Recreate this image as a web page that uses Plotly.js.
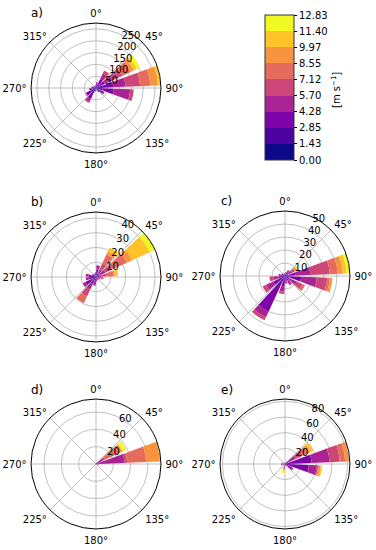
<!DOCTYPE html>
<html>
<head>
<meta charset="utf-8">
<script src="https://cdn.plot.ly/plotly-3.0.1.min.js"></script>
<style>html,body{margin:0;padding:0;background:#fff}#chart{width:376px;height:550px}</style>
</head>
<body>
<div id="chart"></div>
<script>
// Direction bin centres (degrees, compass)
const directions = [11.25, 33.75, 56.25, 78.75, 101.25, 123.75, 146.25, 168.75, 191.25, 213.75, 236.25, 258.75, 281.25, 303.75, 326.25, 348.75];
// Wind speed bin edges (m s-1) and their labels
const speedEdges = [0, 1.43, 2.85, 4.28, 5.70, 7.12, 8.55, 9.97, 11.40, 12.83];
const speedEdgeLabels = ['0.00', '1.43', '2.85', '4.28', '5.70', '7.12', '8.55', '9.97', '11.40', '12.83'];
const angleTicks = [0, 45, 90, 135, 180, 225, 270, 315];
const angleTickLabels = ['0°', '45°', '90°', '135°', '180°', '225°', '270°', '315°'];

// Counts per speed bin (rows) and direction (columns)
const panelA = [
  [0, 2, 2, 3, 3, 2, 2, 1, 2, 5, 5, 3, 2, 2, 2, 2],
  [10, 15, 15, 27, 25, 15, 10, 5, 8, 20, 20, 12, 8, 5, 4, 5],
  [10, 25, 25, 43, 47, 18, 8, 4, 5, 25, 20, 12, 8, 5, 4, 5],
  [5, 25, 35, 52, 70, 5, 0, 0, 0, 15, 5, 3, 2, 0, 0, 0],
  [0, 15, 45, 62, 15, 0, 0, 0, 0, 5, 0, 0, 0, 0, 0, 0],
  [0, 0, 40, 43, 0, 0, 0, 0, 0, 0, 0, 0, 0, 0, 0, 0],
  [0, 0, 14, 32, 0, 0, 0, 0, 0, 0, 0, 0, 0, 0, 0, 0],
  [0, 0, 15, 10, 0, 0, 0, 0, 0, 0, 0, 0, 0, 0, 0, 0],
  [0, 0, 15, 3, 0, 0, 0, 0, 0, 0, 0, 0, 0, 0, 0, 0]
];
const panelB = [
  [0, 0, 0.5, 0, 0, 0, 0, 0, 0, 0.5, 0, 0, 0, 0, 0, 0],
  [2, 1, 1, 1, 0, 1, 1, 1, 2, 2, 3, 2, 2, 1, 1, 1],
  [3, 2, 1.5, 1, 1, 1, 1, 1, 3, 3, 5, 3, 3, 2, 1, 2],
  [3, 3, 4, 2, 2, 1, 0, 1, 1, 4, 2, 2, 2, 0, 0, 0],
  [0, 4, 5, 3, 2, 0, 0, 0, 0, 5, 0, 0, 0, 0, 0, 0],
  [0, 7, 11, 5, 0, 0, 0, 0, 0, 5, 0, 0, 0, 0, 0, 0],
  [0, 2, 4, 1, 0, 0, 0, 0, 0, 0, 0, 0, 0, 0, 0, 0],
  [0, 3, 13, 2, 0, 0, 0, 0, 0, 0, 0, 0, 0, 0, 0, 0],
  [0, 0, 4, 0, 0, 0, 0, 0, 0, 0, 0, 0, 0, 0, 0, 0]
];
const panelC = [
  [0, 0, 0, 0.5, 0.5, 0, 0, 0, 0, 1, 0, 0, 0, 0, 0, 0],
  [1, 1, 1, 2, 3, 1, 1, 1, 2, 4, 2, 1, 1, 1, 1, 1],
  [1, 2, 2, 5.5, 9, 3, 3, 3, 6, 25, 8, 4, 2, 2, 1, 1],
  [1, 2, 3, 11.5, 12, 6, 3, 2, 4, 5, 6, 4, 2, 0, 0, 0],
  [0, 0, 2, 15, 8, 5, 1, 0, 2, 2.5, 3, 3, 0, 0, 0, 0],
  [0, 0, 1, 6, 2, 2, 0, 0, 0, 0, 0, 0, 0, 0, 0, 0],
  [0, 0, 1, 4, 2, 0, 0, 0, 0, 0, 0, 0, 0, 0, 0, 0],
  [0, 0, 1, 3, 0, 0, 0, 0, 0, 0, 0, 0, 0, 0, 0, 0],
  [0, 0, 1, 2.5, 0, 0, 0, 0, 0, 0, 0, 0, 0, 0, 0, 0]
];
const panelD = [
  [0, 0, 0, 0.5, 0, 0, 0, 0, 0, 0, 0, 0, 0, 0, 0, 0],
  [0, 0, 0.5, 1, 0, 0, 0, 0, 0, 0, 0, 0, 0, 0, 0, 0],
  [0, 2, 1, 1.5, 1, 0, 0, 0, 0, 0, 0, 0, 0, 0, 0, 0],
  [0, 1, 7, 30, 2, 0, 0, 0, 0, 0, 0, 0, 0, 0, 0, 0],
  [0, 0, 3, 3, 0, 0, 0, 0, 0, 0, 0, 0, 0, 0, 0, 0],
  [0, 0, 20, 22, 0, 0, 0, 0, 0, 0, 0, 0, 0, 0, 0, 0],
  [0, 0, 2, 16, 0, 0, 0, 0, 0, 0, 0, 0, 0, 0, 0, 0],
  [0, 0, 1, 0.5, 0, 0, 0, 0, 0, 0, 0, 0, 0, 0, 0, 0],
  [0, 0, 4, 0.5, 0, 0, 0, 0, 0, 0, 0, 0, 0, 0, 0, 0]
];
const panelE = [
  [0, 0, 0, 1, 0.5, 0, 0, 0, 0, 0, 0, 0, 0, 0, 0, 0],
  [0, 1, 1, 2, 2, 2, 1, 0, 0, 0, 0, 0, 0, 0, 0, 0],
  [0, 2, 4, 31, 28, 8, 2, 0, 0, 0, 0, 3, 3, 0, 0, 0],
  [0, 0, 10, 23, 10, 2, 0, 0, 4, 0, 0, 2, 0, 0, 0, 0],
  [0, 0, 10, 13, 2, 0, 0, 0, 3, 0, 0, 0, 2, 0, 0, 0],
  [0, 0, 7, 7, 1, 0, 0, 0, 0, 0, 0, 0, 0, 0, 0, 0],
  [0, 0, 4, 5, 2, 0, 0, 0, 0, 0, 0, 0, 0, 0, 0, 0],
  [0, 0, 4, 0, 2, 0, 0, 0, 2, 0, 0, 0, 0, 0, 0, 0],
  [0, 0, 0, 0, 0, 0, 0, 0, 3, 0, 0, 0, 0, 0, 0, 0]
];
const radialTicksA = [50, 100, 150, 200, 250];
const radialTicksB = [10, 20, 30, 40];
const radialTicksC = [10, 20, 30, 40, 50];
const radialTicksD = [20, 40, 60];
const radialTicksE = [20, 40, 60, 80];
const radialMax = [275, 44, 50, 75, 83];
const panelNames = ['a)', 'b)', 'c)', 'd)', 'e)'];
const colorbarTitle = '[m s<sup>−1</sup>]';

// ---- styling ----
const plasma = ['#0d0887', '#4c02a1', '#7e03a8', '#a92395', '#cc4778', '#e56b5d', '#f89441', '#fdc328', '#f0f921'];
const W = 376, H = 550, R = 65;
const centres = [[96, 88], [96, 277], [285, 276], [96, 464], [285, 464]];
const labelPos = [[29, 13], [29, 202], [219, 201], [29, 390], [219, 390]];
const font = 'DejaVu Sans, Arial, sans-serif';
const radialAngle = 70;

const nBins = speedEdges.length - 1;
const colorscale = [];
plasma.forEach((c, i) => { colorscale.push([i / nBins, c]); colorscale.push([(i + 1) / nBins, c]); });

const panels = [panelA, panelB, panelC, panelD, panelE];
const radialTicks = [radialTicksA, radialTicksB, radialTicksC, radialTicksD, radialTicksE];
const subplotIds = ['polar', 'polar2', 'polar3', 'polar4', 'polar5'];

const traces = [];
panels.forEach((panel, p) => {
  panel.forEach((row, b) => {
    const mid = (speedEdges[b] + speedEdges[b + 1]) / 2;
    const tr = {
      type: 'barpolar',
      subplot: subplotIds[p],
      theta: directions,
      r: row,
      width: 18,
      showlegend: false,
      hoverinfo: 'skip',
      marker: {
        color: directions.map(() => mid),
        colorscale: colorscale,
        cmin: speedEdges[0],
        cmax: speedEdges[nBins],
        line: {width: 0},
        showscale: p === 0 && b === 0
      }
    };
    if (p === 0 && b === 0) {
      tr.marker.colorbar = {
        x: 265 / W, xanchor: 'left', xpad: 0,
        y: 1 - 87.5 / H, yanchor: 'middle', ypad: 0,
        thickness: 29, thicknessmode: 'pixels',
        len: 145, lenmode: 'pixels',
        outlinewidth: 1, outlinecolor: '#333',
        tickmode: 'array', tickvals: speedEdges, ticktext: speedEdgeLabels,
        ticks: 'outside', ticklen: 3, tickcolor: '#000',
        tickfont: {family: font, size: 10, color: '#000'}
      };
    }
    traces.push(tr);
  });
});

const annotations = panelNames.map((t, i) => ({
  text: t, xref: 'paper', yref: 'paper',
  x: labelPos[i][0] / W, y: 1 - labelPos[i][1] / H,
  xanchor: 'left', yanchor: 'middle', showarrow: false,
  font: {family: font, size: 12, color: '#000'}
}));
annotations.push({
  text: colorbarTitle, xref: 'paper', yref: 'paper',
  x: 336 / W, y: 1 - 90 / H, xanchor: 'center', yanchor: 'middle',
  textangle: -90, showarrow: false,
  font: {family: font, size: 10, color: '#000'}
});

const layout = {
  width: W, height: H,
  margin: {l: 0, r: 0, t: 0, b: 0},
  paper_bgcolor: '#fff',
  font: {family: font, color: '#000'},
  showlegend: false,
  annotations: annotations
};
subplotIds.forEach((id, p) => {
  const [cx, cy] = centres[p];
  layout[id] = {
    domain: {x: [(cx - R) / W, (cx + R) / W], y: [1 - (cy + R) / H, 1 - (cy - R) / H]},
    bgcolor: '#fff',
    barmode: 'stack',
    angularaxis: {
      rotation: 90, direction: 'clockwise',
      tickmode: 'array', tickvals: angleTicks, ticktext: angleTickLabels,
      ticks: 'outside', ticklen: 2, tickcolor: 'rgba(0,0,0,0)',
      showline: true, linecolor: '#000', linewidth: 1,
      showgrid: true, gridcolor: '#b0b0b0', gridwidth: 0.8,
      tickfont: {family: font, size: 10, color: '#000'}
    },
    radialaxis: {
      range: [0, radialMax[p]],
      tickmode: 'array', tickvals: radialTicks[p],
      ticks: '', showline: false, angle: radialAngle, tickangle: radialAngle,
      showgrid: true, gridcolor: '#b0b0b0', gridwidth: 0.8,
      tickfont: {family: font, size: 10, color: '#000'}
    }
  };
});

Plotly.newPlot('chart', traces, layout, {displayModeBar: false, staticPlot: true});
</script>
</body>
</html>
